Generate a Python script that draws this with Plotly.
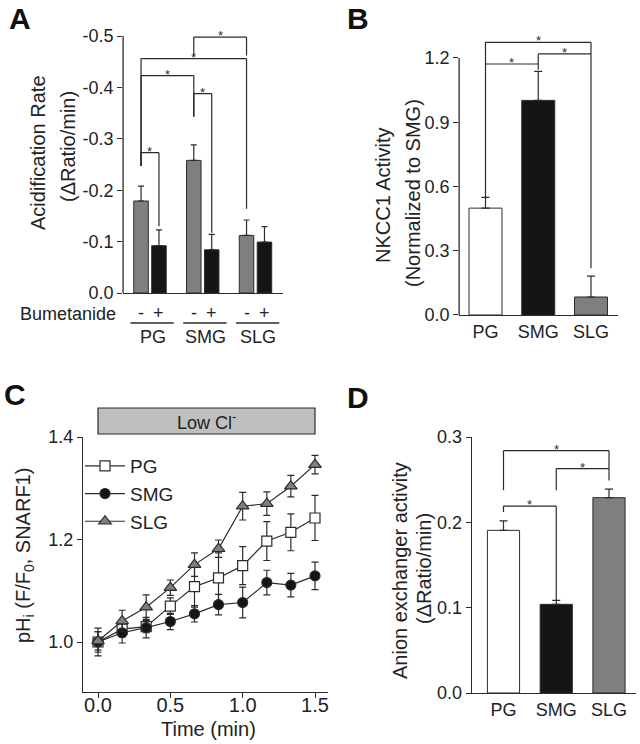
import plotly.graph_objects as go

W, H = 640, 744
FONT = "Liberation Sans, Arial, Helvetica, sans-serif"
INK = "#2b2b2b"
GRAY = "#7f7f7f"
BLACK = "#151515"

# ---------------- data ----------------
groups = ["PG", "SMG", "SLG"]
gpos = list(range(len(groups)))

# Panel A: acidification rate (negative values), without (-) / with (+) bumetanide
a_minus = [-0.179, -0.258, -0.112]
a_minus_err = [0.029, 0.030, 0.030]
a_plus = [-0.092, -0.084, -0.099]
a_plus_err = [0.031, 0.030, 0.030]
a_tickvals = [0.0, -0.1, -0.2, -0.3, -0.4, -0.5]
a_ticktext = ["0.0", "-0.1", "-0.2", "-0.3", "-0.4", "-0.5"]

# Panel B: NKCC1 activity normalised to SMG
b_vals = [0.499, 1.002, 0.084]
b_err = [0.050, 0.136, 0.098]
b_tickvals = [0.0, 0.3, 0.6, 0.9, 1.2]
b_ticktext = ["0.0", "0.3", "0.6", "0.9", "1.2"]

# Panel C: pHi time course in low Cl-
c_time = [0.0, 0.167, 0.333, 0.5, 0.667, 0.833, 1.0, 1.167, 1.333, 1.5]
c_pg = [1.000, 1.025, 1.030, 1.070, 1.108, 1.125, 1.149, 1.197, 1.214, 1.242]
c_pg_err = [0.020, 0.015, 0.012, 0.016, 0.040, 0.049, 0.037, 0.038, 0.036, 0.044]
c_smg = [1.000, 1.018, 1.028, 1.040, 1.055, 1.073, 1.077, 1.116, 1.111, 1.129]
c_smg_err = [0.027, 0.020, 0.020, 0.016, 0.016, 0.020, 0.030, 0.024, 0.023, 0.027]
c_slg = [1.002, 1.041, 1.068, 1.106, 1.151, 1.182, 1.265, 1.270, 1.304, 1.346]
c_slg_err = [0.018, 0.021, 0.024, 0.015, 0.023, 0.017, 0.027, 0.023, 0.021, 0.018]
c_xtickvals = [0.0, 0.5, 1.0, 1.5]
c_xticktext = ["0.0", "0.5", "1.0", "1.5"]
c_ytickvals = [1.0, 1.2, 1.4]
c_yticktext = ["1.0", "1.2", "1.4"]

# Panel D: anion exchanger activity
d_vals = [0.1906, 0.1039, 0.2289]
d_err = [0.011, 0.0047, 0.0101]
d_tickvals = [0.0, 0.1, 0.2, 0.3]
d_ticktext = ["0.0", "0.1", "0.2", "0.3"]

# significance brackets: (left pos, right pos, bar height, left leg end, right leg end)
a_brackets = [(-0.17, 0.17, -0.273, -0.247, -0.130),
              (-0.17, 0.83, -0.423, -0.247, -0.343),
              (0.83, 1.17, -0.388, -0.343, -0.117),
              (-0.17, 1.83, -0.456, -0.247, -0.164),
              (0.83, 1.83, -0.498, -0.461, -0.462)]
b_brackets = [(0, 1, 1.172, 0.541, 1.145),
              (1, 2, 1.219, 1.172, 0.218),
              (0, 2, 1.273, 1.172, 1.219)]
d_brackets = [(0, 1, 0.219, 0.212, 0.1086),
              (1, 2, 0.263, 0.2375, 0.249),
              (0, 2, 0.284, 0.2375, 0.263)]


# ---------------- helpers ----------------
def xdom(pa, va, pb, vb, r):
    s = (pb - pa) / (vb - va)
    return [(pa + (r[0] - va) * s) / W, (pa + (r[1] - va) * s) / W]


def ydom(pa, va, pb, vb, r):
    s = (pb - pa) / (vb - va)
    bottom = pa + (r[0] - va) * s
    top = pa + (r[1] - va) * s
    return [1 - bottom / H, 1 - top / H]


def py(px):
    return 1 - px / H


def px_(p):
    return p / W


fig = go.Figure()

# ---- Panel A ----
fig.add_trace(go.Bar(x=gpos, y=a_minus, width=0.275, offset=-0.3075,
                     marker=dict(color=GRAY, line=dict(color=INK, width=1)),
                     error_y=dict(type="data", symmetric=False, array=[0, 0, 0],
                                  arrayminus=a_minus_err, color=INK, thickness=1.2, width=3),
                     xaxis="x", yaxis="y", showlegend=False))
fig.add_trace(go.Bar(x=gpos, y=a_plus, width=0.275, offset=0.0325,
                     marker=dict(color=BLACK, line=dict(color=INK, width=1)),
                     error_y=dict(type="data", symmetric=False, array=[0, 0, 0],
                                  arrayminus=a_plus_err, color=INK, thickness=1.2, width=3),
                     xaxis="x", yaxis="y", showlegend=False))

# ---- Panel B ----
fig.add_trace(go.Bar(x=gpos, y=b_vals, width=0.625,
                     marker=dict(color=["white", BLACK, GRAY], line=dict(color=INK, width=1)),
                     error_y=dict(type="data", symmetric=False, array=b_err,
                                  arrayminus=[0, 0, 0], color=INK, thickness=1.2, width=4),
                     xaxis="x2", yaxis="y2", showlegend=False))

# ---- Panel C ----
c_series = [("PG", c_pg, c_pg_err, "square", "white", 10),
            ("SMG", c_smg, c_smg_err, "circle", BLACK, 10),
            ("SLG", c_slg, c_slg_err, "triangle-up", GRAY, 11)]
for name, ys, es, sym, col, sz in c_series:
    fig.add_trace(go.Scatter(x=c_time, y=ys, name=name, mode="lines+markers",
                             line=dict(color=INK, width=1.2),
                             marker=dict(symbol=sym, size=sz, color=col, line=dict(color=INK, width=1.2)),
                             error_y=dict(type="data", array=es, color=INK, thickness=1.2, width=3.5),
                             xaxis="x3", yaxis="y3", showlegend=True))

# ---- Panel D ----
fig.add_trace(go.Bar(x=gpos, y=d_vals, width=0.61,
                     marker=dict(color=["white", BLACK, GRAY], line=dict(color=INK, width=1)),
                     error_y=dict(type="data", symmetric=False, array=d_err,
                                  arrayminus=[0, 0, 0], color=INK, thickness=1.2, width=4),
                     xaxis="x4", yaxis="y4", showlegend=False))

# ---------------- axes ----------------
tickfont = dict(family=FONT, size=18, color="#222")
common = dict(showgrid=False, zeroline=False, linecolor=INK, linewidth=1.3, automargin=False,
              tickcolor=INK, tickwidth=1.2, ticklen=5, tickfont=tickfont)

a_xr = [-0.51, 2.52]
a_yr = [0.0, -0.51]
b_xr = [-0.5, 2.51]
b_yr = [0.0, 1.29]
c_xr = [-0.104, 1.59]
c_yr = [0.902, 1.4]
d_xr = [-0.6, 2.51]
d_yr = [0.0, 0.3]

fig.update_layout(
    template="none",
    xaxis=dict(domain=xdom(150, 0, 255.5, 2, a_xr), range=a_xr, anchor="y",
               showline=True, ticks="", showticklabels=False, **common),
    yaxis=dict(domain=ydom(293, 0.0, 36, -0.5, a_yr), range=a_yr, anchor="x",
               showline=False, ticks="outside", tickvals=a_tickvals, ticktext=a_ticktext, **common),
    xaxis2=dict(domain=xdom(485.5, 0, 591, 2, b_xr), range=b_xr, anchor="y2",
                showline=True, ticks="", tickvals=gpos, ticktext=groups, **common),
    yaxis2=dict(domain=ydom(315, 0.0, 58, 1.2, b_yr), range=b_yr, anchor="x2",
                showline=False, ticks="outside", tickvals=b_tickvals, ticktext=b_ticktext, **common),
    xaxis3=dict(domain=xdom(98, 0.0, 315, 1.5, c_xr), range=c_xr, anchor="y3",
                showline=True, ticks="outside", tickvals=c_xtickvals, ticktext=c_xticktext,
                ticklabelstandoff=-10,
                **{**common, "tickfont": dict(family=FONT, size=20, color="#222")}),
    yaxis3=dict(domain=ydom(642, 1.0, 437, 1.4, c_yr), range=c_yr, anchor="x3",
                showline=True, ticks="outside", tickvals=c_ytickvals, ticktext=c_yticktext, **common),
    xaxis4=dict(domain=xdom(503.5, 0, 609, 2, d_xr), range=d_xr, anchor="y4",
                showline=True, ticks="", tickvals=gpos, ticktext=groups, **common),
    yaxis4=dict(domain=ydom(693, 0.0, 437, 0.3, d_yr), range=d_yr, anchor="x4",
                showline=True, ticks="outside", tickvals=d_tickvals, ticktext=d_ticktext, **common),
)

shapes = []
annots = []

# custom y axis lines for A and B (stop at the top tick)
shapes.append(dict(type="line", xref="x domain", yref="y", x0=0, x1=0, y0=a_tickvals[0], y1=a_tickvals[-1],
                   line=dict(color=INK, width=1.3)))
shapes.append(dict(type="line", xref="x2 domain", yref="y2", x0=0, x1=0, y0=b_tickvals[0], y1=b_tickvals[-1],
                   line=dict(color=INK, width=1.3)))


def add_brackets(br, xr, yr):
    for xl, xrr, yb, yl, yrr in br:
        for (x0, y0, x1, y1) in [(xl, yl, xl, yb), (xl, yb, xrr, yb), (xrr, yb, xrr, yrr)]:
            shapes.append(dict(type="line", xref=xr, yref=yr, x0=x0, y0=y0, x1=x1, y1=y1,
                               line=dict(color=INK, width=1.2)))
        annots.append(dict(x=(xl + xrr) / 2, y=yb, xref=xr, yref=yr, text="*", showarrow=False,
                           xanchor="center", yanchor="bottom", yshift=-8,
                           font=dict(family=FONT, size=13, color=INK)))


add_brackets(a_brackets, "x", "y")
add_brackets(b_brackets, "x2", "y2")
add_brackets(d_brackets, "x4", "y4")

# Panel A x labels: bumetanide -/+ , underlines, group names
labfont = dict(family=FONT, size=18, color="#222")
annots.append(dict(x=px_(118), y=py(314), xref="paper", yref="paper", text="Bumetanide",
                   showarrow=False, xanchor="right", yanchor="middle", font=labfont))
for i, g in zip(gpos, groups):
    annots.append(dict(x=i - 0.17, y=py(313), xref="x", yref="paper", text="-", showarrow=False,
                       xanchor="center", yanchor="middle", font=labfont))
    annots.append(dict(x=i + 0.17, y=py(313), xref="x", yref="paper", text="+", showarrow=False,
                       xanchor="center", yanchor="middle", font=labfont))
    shapes.append(dict(type="line", xref="x", yref="paper", x0=i - 0.37, x1=i + 0.45,
                       y0=py(323), y1=py(323), line=dict(color=INK, width=1.3)))
    annots.append(dict(x=i + 0.05, y=py(337), xref="x", yref="paper", text=g, showarrow=False,
                       xanchor="center", yanchor="middle", font=labfont))

# Low Cl- bar
shapes.append(dict(type="rect", xref="x3", yref="paper", x0=c_time[0], x1=c_time[-1],
                   y0=py(434), y1=py(408), fillcolor="#bfbfbf", line=dict(color=INK, width=1.2)))
annots.append(dict(x=(c_time[0] + c_time[-1]) / 2, y=py(421), xref="x3", yref="paper",
                   text="Low Cl<sup>-</sup>", showarrow=False, xanchor="center", yanchor="middle",
                   font=labfont))

# axis titles
titlefont = dict(family=FONT, size=20, color="#222")


def ytitle(text, cx, cy):
    annots.append(dict(x=px_(cx), y=py(cy), xref="paper", yref="paper", text=text, textangle=-90,
                       showarrow=False, xanchor="center", yanchor="middle", font=titlefont))


ytitle("Acidification Rate", 38, 153)
ytitle("(\u0394Ratio/min)", 68, 147)
ytitle("NKCC1 Activity", 383, 195)
ytitle("(Normalized to SMG)", 413, 193)
ytitle("pH<sub>i</sub> (F/F<sub>0</sub>, SNARF1)", 24, 556)
ytitle("Anion exchanger activity", 400, 571)
ytitle("(\u0394Ratio/min)", 424, 569)
annots.append(dict(x=px_(208), y=py(729), xref="paper", yref="paper", text="Time (min)",
                   showarrow=False, xanchor="center", yanchor="middle", font=titlefont))

# panel letters
for letter, cx, cy in [("A", 20, 19), ("B", 358, 19), ("C", 15, 394), ("D", 358, 397)]:
    annots.append(dict(x=px_(cx), y=py(cy), xref="paper", yref="paper", text="<b>%s</b>" % letter,
                       showarrow=False, xanchor="center", yanchor="middle",
                       font=dict(family=FONT, size=30, color="#111")))

fig.update_layout(
    width=W, height=H, margin=dict(l=0, r=0, t=0, b=0, pad=0, autoexpand=False),
    paper_bgcolor="white", plot_bgcolor="white",
    barmode="overlay",
    shapes=shapes, annotations=annots,
    legend=dict(x=px_(80), y=py(447), xanchor="left", yanchor="top", bgcolor="rgba(0,0,0,0)",
                borderwidth=0, font=dict(family=FONT, size=19, color="#222"), itemwidth=40,
                tracegroupgap=0),
    font=dict(family=FONT),
)

fig.write_html("out.html", config={"displayModeBar": False},
               post_script="document.body.style.margin='0px';document.body.style.overflow='hidden';")
